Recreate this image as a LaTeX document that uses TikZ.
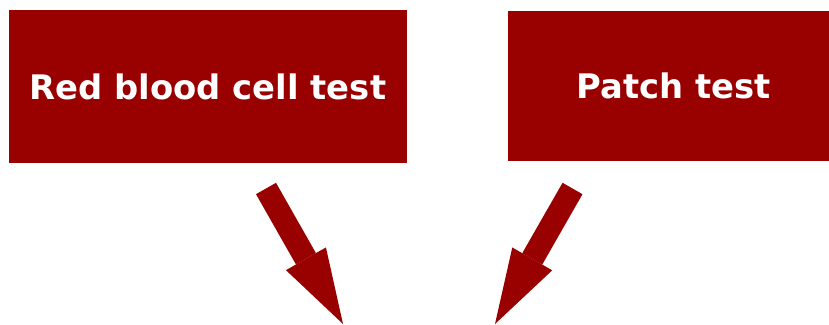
\documentclass[tikz,border=0pt]{standalone}
\usepackage{fontspec}
\setmainfont{DejaVu Sans}
\usepackage{xcolor}
\usetikzlibrary{arrows.meta,positioning}
\definecolor{testred}{HTML}{990000}

\begin{document}
\begin{tikzpicture}[
  x=1pt, y=1pt,
  testbox/.style={fill=testred, text=white, inner sep=0pt,
    font=\fontsize{33.8}{40}\selectfont\bfseries},
  bigarr/.style={testred, line width=23pt,
    -{Triangle[length=75pt, width=46pt, line width=0pt]}}
]
\useasboundingbox (0,0) rectangle (829,324);

% Tests
\node[testbox, minimum width=398pt, minimum height=153pt] (rbc) at (208,237.5) {Red blood cell test};
\node[testbox, minimum width=332pt, minimum height=150pt] (patch) at (674,238) {Patch test};

% Arrow ends
\coordinate (rbcout) at (266,135.5);
\coordinate (patchout) at (572.5,135.5);
\coordinate (leftin) at (343,0);
\coordinate (rightin) at (495,0);

\draw[bigarr] (rbcout) -- (leftin);
\draw[bigarr] (patchout) -- (rightin);

\end{tikzpicture}
\end{document}
